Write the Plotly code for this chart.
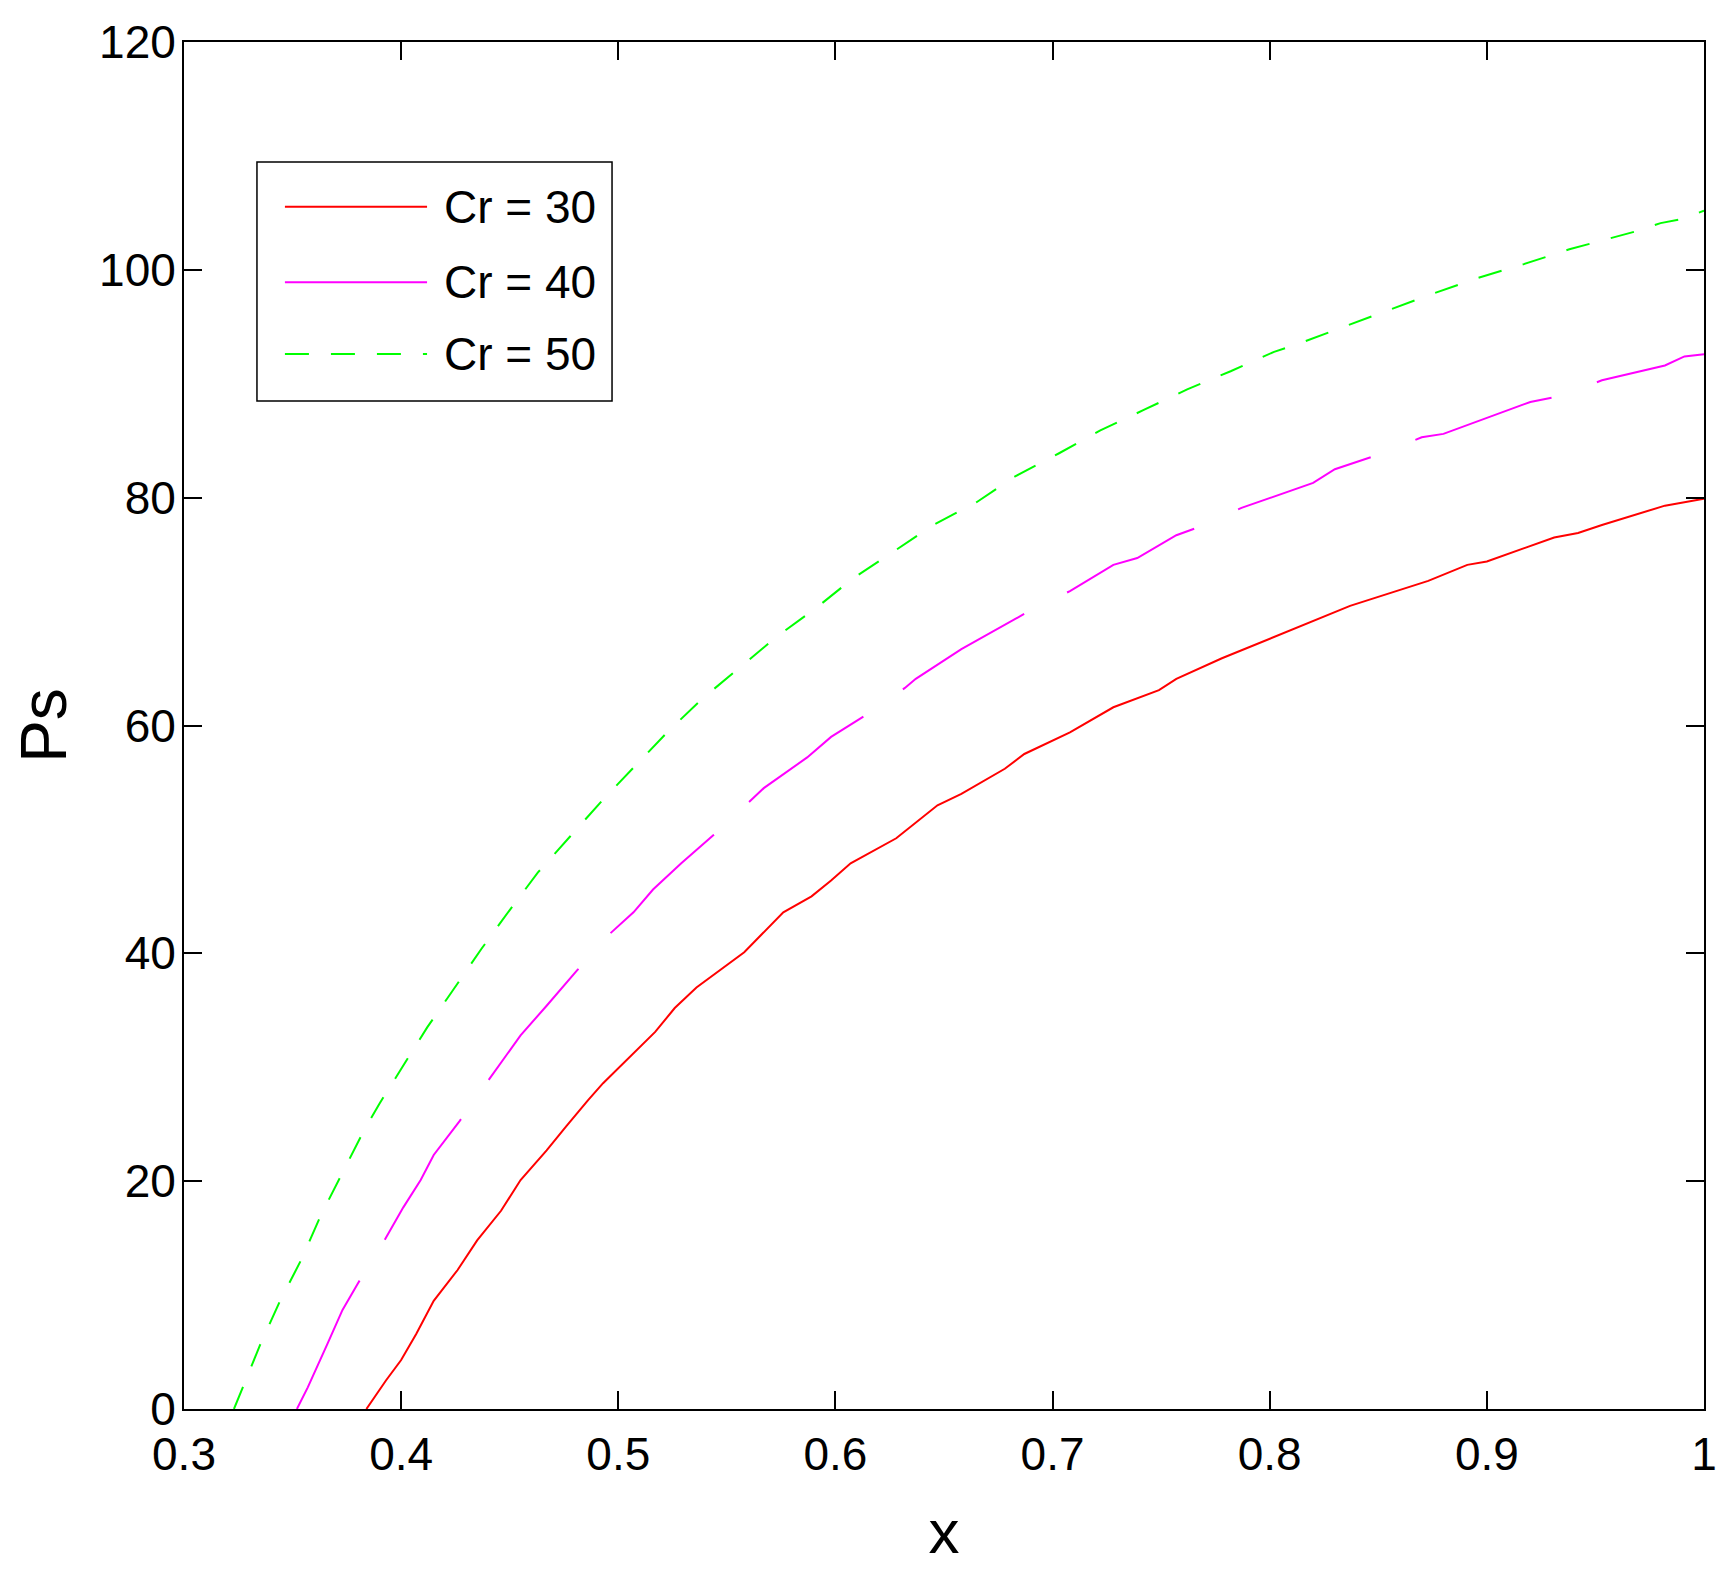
import plotly.graph_objects as go

# Cr = 30
x_cr30 = [0.384, 0.393, 0.400, 0.407, 0.415, 0.426, 0.435, 0.446, 0.455, 0.467,
          0.476, 0.486, 0.493, 0.509, 0.517, 0.526, 0.536, 0.558, 0.576, 0.589,
          0.598, 0.607, 0.628, 0.647, 0.658, 0.678, 0.687, 0.708, 0.728, 0.749,
          0.757, 0.778, 0.810, 0.837, 0.873, 0.891, 0.900, 0.931, 0.942, 0.953,
          0.982, 1.000]
y_cr30 = [0.0, 2.5, 4.3, 6.6, 9.5, 12.2, 14.8, 17.4, 20.1, 22.7,
          24.8, 27.1, 28.6, 31.6, 33.1, 35.2, 37.0, 40.1, 43.6, 45.0,
          46.4, 47.9, 50.1, 53.0, 54.0, 56.2, 57.5, 59.4, 61.6, 63.1,
          64.1, 65.9, 68.4, 70.5, 72.7, 74.1, 74.4, 76.5, 76.9, 77.6,
          79.3, 79.9]

# Cr = 40
x_cr40 = [0.352, 0.357, 0.366, 0.373, 0.380, 0.392, 0.401, 0.409, 0.415, 0.427,
          0.440, 0.455, 0.467, 0.481, 0.496, 0.507, 0.516, 0.529, 0.544, 0.560,
          0.567, 0.587, 0.598, 0.613, 0.632, 0.637, 0.658, 0.687, 0.708, 0.728,
          0.739, 0.757, 0.767, 0.787, 0.820, 0.830, 0.849, 0.870, 0.880, 0.920,
          0.933, 0.953, 0.982, 0.991, 1.000]
y_cr40 = [0.0, 1.9, 5.7, 8.7, 11.0, 14.7, 17.7, 20.1, 22.3, 25.3,
          28.8, 32.8, 35.4, 38.5, 41.7, 43.6, 45.6, 47.9, 50.4, 53.3,
          54.5, 57.2, 59.0, 60.8, 63.3, 64.1, 66.7, 69.8, 71.8, 74.1,
          74.7, 76.7, 77.4, 79.1, 81.3, 82.5, 83.7, 85.3, 85.6, 88.4,
          88.9, 90.3, 91.6, 92.4, 92.6]

# Cr = 50
x_cr50 = [0.323, 0.335, 0.344, 0.354, 0.363, 0.373, 0.383, 0.390, 0.400, 0.412,
          0.424, 0.437, 0.450, 0.463, 0.478, 0.493, 0.508, 0.523, 0.539, 0.556,
          0.573, 0.591, 0.608, 0.627, 0.645, 0.665, 0.683, 0.703, 0.722, 0.742,
          0.762, 0.782, 0.802, 0.813, 0.834, 0.854, 0.875, 0.896, 0.917, 0.938,
          0.953, 0.969, 0.980, 0.991, 1.000]
y_cr50 = [0.0, 5.6, 9.4, 13.1, 17.0, 20.8, 24.5, 26.8, 29.9, 33.5,
          36.8, 40.4, 43.8, 47.1, 50.3, 53.5, 56.5, 59.5, 62.4, 65.1,
          67.8, 70.3, 72.9, 75.3, 77.6, 79.6, 81.9, 83.9, 85.9, 87.7,
          89.5, 91.1, 92.8, 93.5, 95.0, 96.4, 97.9, 99.3, 100.5, 101.8,
          102.6, 103.4, 104.1, 104.5, 105.2]

x_ticks = [0.3, 0.4, 0.5, 0.6, 0.7, 0.8, 0.9, 1.0]
x_ticktext = ["0.3", "0.4", "0.5", "0.6", "0.7", "0.8", "0.9", "1"]
y_ticks = [0, 20, 40, 60, 80, 100, 120]

series_names = ["Cr = 30", "Cr = 40", "Cr = 50"]
series_colors = ["#ff0000", "#ff00ff", "#00ff00"]
series_dash = ["solid", "143px,48px", "24px,22px"]

FONT = "Liberation Sans, Arial, Helvetica"

fig = go.Figure()
for xs, ys, name, color, dash in zip([x_cr30, x_cr40, x_cr50], [y_cr30, y_cr40, y_cr50],
                                     series_names, series_colors, series_dash):
    fig.add_trace(go.Scatter(x=xs, y=ys, mode="lines", name=name, showlegend=False,
                             line=dict(color=color, width=2, dash=dash)))

# legend box drawn by hand (matlab style: long sample lines, padding)
fig.add_shape(type="rect", xref="paper", yref="paper", x0=0.048, x1=0.2816,
              y0=0.7374, y1=0.9122, line=dict(color="black", width=1.5),
              fillcolor="white", layer="above")
row_y = [0.8795, 0.8242, 0.7718]
for ry, name, color, dash in zip(row_y, series_names, series_colors, series_dash):
    fig.add_shape(type="line", xref="paper", yref="paper", x0=0.0664, x1=0.1599,
                  y0=ry, y1=ry, line=dict(color=color, width=2, dash=dash), layer="above")
    fig.add_annotation(xref="paper", yref="paper", x=0.170, y=ry, text=name,
                       showarrow=False, xanchor="left", yanchor="middle",
                       font=dict(family=FONT, size=46, color="black"))

axis_common = dict(showline=True, linecolor="black", linewidth=2, mirror="ticks",
                   ticks="inside", ticklen=18, tickwidth=1.5, tickcolor="black",
                   showgrid=False, zeroline=False, automargin=False,
                   tickfont=dict(family=FONT, size=46, color="black"))

fig.update_xaxes(range=[0.3, 1.0], tickvals=x_ticks, ticktext=x_ticktext,
                 ticklabelstandoff=4,
                 title=dict(text="x", font=dict(family=FONT, size=62, color="black"),
                            standoff=30),
                 **axis_common)
fig.update_yaxes(range=[0, 120], tickvals=y_ticks, ticklabelstandoff=-3,
                 title=dict(text="Ps", font=dict(family=FONT, size=64, color="black"),
                            standoff=22),
                 **axis_common)

# the page adds an 8px body margin, so margins are shifted by that much
fig.update_layout(
    width=1735, height=1570, autosize=False,
    margin=dict(l=176, r=39, t=34, b=169),
    paper_bgcolor="white", plot_bgcolor="white",
    font=dict(family=FONT, color="black"),
    showlegend=False,
)

fig.write_html("out.html")
